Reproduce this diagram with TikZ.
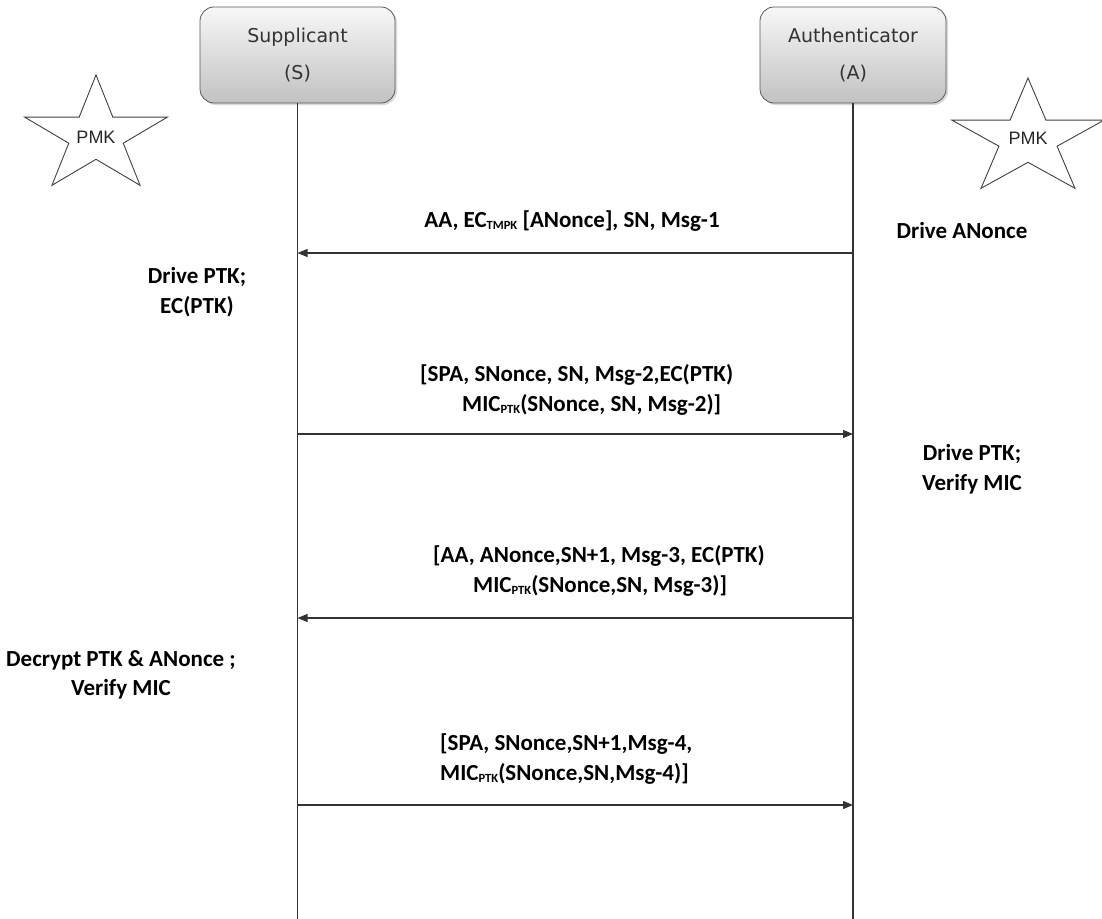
\documentclass[tikz,border=0pt]{standalone}
\usepackage{fontspec}
\setmainfont{Carlito}
\newfontfamily\hdrfont{DejaVu Sans}
\newfontfamily\pmkfont{Liberation Sans}
\usetikzlibrary{arrows.meta,shadows}
\newcommand{\lowsub}[1]{\raisebox{-0.2ex}{\fontsize{12.5}{12.5}\selectfont #1}}
\begin{document}
\begin{tikzpicture}[x=1pt,y=-1pt,
  actor/.style={draw=black!65, line width=0.8pt, rounded corners=14pt,
    top color=white!97!black, bottom color=black!24,
    minimum height=96pt, inner sep=0pt,
    drop shadow={shadow xshift=2pt,shadow yshift=-2pt,opacity=0.3},
    align=center, font=\hdrfont\fontsize{19}{37}\selectfont, text=black!80},
  life/.style={draw=black!80, line width=1.4pt},
  msg/.style={draw=black!80, line width=1.2pt, -{Triangle[length=10pt,width=8pt]}},
  lbl/.style={font=\bfseries\fontsize{23}{29.5}\selectfont, inner sep=0pt},
  starline/.style={draw=black!75, line width=0.9pt, line join=miter},
  pmk/.style={font=\pmkfont\fontsize{18}{18}\selectfont, inner sep=0pt, text=black!85}]
\useasboundingbox (0,0) rectangle (1102,918);

% actors
\node[actor, minimum width=195pt] (S) at (297.5,55) {Supplicant\\(S)};
\node[actor, minimum width=186pt] (A) at (853,55) {Authenticator\\(A)};
\coordinate (Sb) at (297.5,920);
\coordinate (Ab) at (853,920);
\draw[life] (S.south) -- (Sb);
\draw[life] (A.south) -- (Ab);

% stars
\node[pmk] (pmkL) at (96,137) {PMK};
\node[pmk] (pmkR) at (1028,138) {PMK};
\begin{scope}[shift={(96,136)}, x=75pt, y=61pt]
  \draw[starline] (90:1) -- (126:0.382) -- (162:1) -- (198:0.382) -- (234:1)
    -- (270:0.382) -- (306:1) -- (342:0.382) -- (18:1) -- (54:0.382) -- cycle;
\end{scope}
\begin{scope}[shift={(1028,139)}, x=80pt, y=61pt]
  \draw[starline] (90:1) -- (126:0.382) -- (162:1) -- (198:0.382) -- (234:1)
    -- (270:0.382) -- (306:1) -- (342:0.382) -- (18:1) -- (54:0.382) -- cycle;
\end{scope}

% message end points
\coordinate (s1) at (297.5,253); \coordinate (a1) at (853,253);
\coordinate (s2) at (297.5,434); \coordinate (a2) at (853,434);
\coordinate (s3) at (297.5,618); \coordinate (a3) at (853,618);
\coordinate (s4) at (297.5,805); \coordinate (a4) at (853,805);

\draw[msg] (a1) -- (s1);
\draw[msg] (s2) -- (a2);
\draw[msg] (a3) -- (s3);
\draw[msg] (s4) -- (a4);

% labels
\node[lbl] (m1) at (572,221) {AA, EC\lowsub{TMPK} [ANonce], SN, Msg-1};
\node[lbl] (dA) at (962,231) {Drive ANonce};
\node[lbl, align=center] (dS) at (197,292) {Drive PTK;\\EC(PTK)};
\node[lbl, align=left, anchor=west] (m2) at (420,390)
  {[SPA, SNonce, SN, Msg-2,EC(PTK)\\\hspace*{42pt}MIC\lowsub{PTK}(SNonce, SN, Msg-2)]};
\node[lbl, align=center] (dA2) at (972,469) {Drive PTK;\\Verify MIC};
\node[lbl, align=left, anchor=west] (m3) at (433,571)
  {[AA, ANonce,SN+1, Msg-3, EC(PTK)\\\hspace*{40pt}MIC\lowsub{PTK}(SNonce,SN, Msg-3)]};
\node[lbl, align=center] (dS2) at (121,675) {Decrypt PTK \& ANonce ;\\Verify MIC};
\node[lbl, align=left, anchor=west] (m4) at (440,759)
  {[SPA, SNonce,SN+1,Msg-4,\\MIC\lowsub{PTK}(SNonce,SN,Msg-4)]};
\end{tikzpicture}
\end{document}
